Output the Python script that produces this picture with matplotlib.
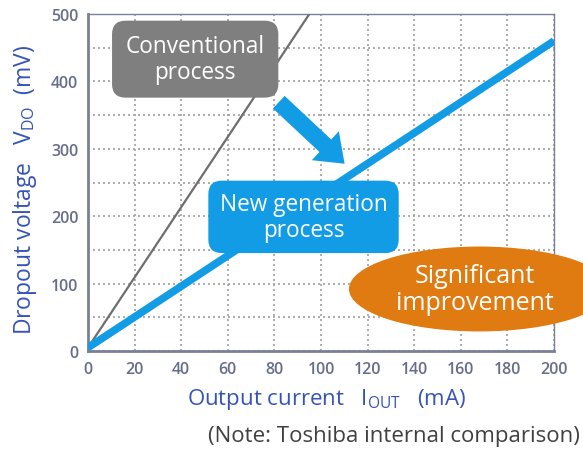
import matplotlib.pyplot as plt
from matplotlib.patches import Ellipse

plt.rcParams['font.family'] = ['Open Sans', 'DejaVu Sans']

# data
current_conv = [0, 95]
vdo_conv = [5, 500]
current_new = [0, 200]
vdo_new = [5, 460]
x_ticks = [0, 20, 40, 60, 80, 100, 120, 140, 160, 180, 200]
y_ticks = [0, 100, 200, 300, 400, 500]

tick_col = "#666d8a"
label_col = "#3553b8"
blue = "#129ce6"
gray = "#6e6e6e"
orange = "#e07b12"

fig = plt.figure(figsize=(5.83, 4.52), dpi=100)
ax = fig.add_axes([88 / 583, 100 / 452, 466 / 583, 337 / 452])

ax.plot(current_conv, vdo_conv, color=gray, lw=1.6, zorder=3, solid_capstyle='butt')
ax.plot(current_new, vdo_new, color=blue, lw=5.5, zorder=3, solid_capstyle='butt')

ax.set_xlim(0, 200)
ax.set_ylim(0, 500)
ax.set_xticks(x_ticks)
ax.set_yticks(y_ticks)
ax.set_yticks([50, 150, 250, 350, 450], minor=True)
ax.grid(True, which='both', color='#a0a0a0', linestyle=(0, (1.2, 1.8)), lw=1.2)
ax.tick_params(which='both', length=0, colors=tick_col, labelsize=11.5, pad=7)
for lab in ax.get_xticklabels() + ax.get_yticklabels():
    lab.set_fontweight('semibold')
for s in ['left', 'bottom']:
    ax.spines[s].set_color('#7a8099')
    ax.spines[s].set_linewidth(2)
for s in ['top', 'right']:
    ax.spines[s].set_color('#7a8099')
    ax.spines[s].set_linewidth(1)

fig.text(25 / 583, 1 - 190 / 452, r"Dropout voltage   V$_{\mathregular{DO}}$  (mV)",
         rotation=90, ha='center', va='center', fontsize=16.5, color=label_col)
fig.text(327 / 583, 1 - 400 / 452, r"Output current   I$_{\mathregular{OUT}}$   (mA)",
         ha='center', va='center', fontsize=16, color=label_col)
fig.text(580 / 583, 1 - 437 / 452, "(Note: Toshiba internal comparison)",
         ha='right', va='center', fontsize=16, color='#404040')

# callouts
ax.text(46, 433, "Conventional\nprocess", ha='center', va='center', fontsize=16.3,
        color='white', linespacing=1.1, zorder=5,
        bbox=dict(boxstyle='round,pad=0.6,rounding_size=0.6', fc='#7f7f7f', ec='none'))
ax.text(92.5, 199, "New generation\nprocess", ha='center', va='center', fontsize=16.3,
        color='white', linespacing=1.1, zorder=5,
        bbox=dict(boxstyle='round,pad=0.5,rounding_size=0.6', fc=blue, ec='none'))
ax.annotate("", xy=(111, 275), xytext=(81, 372),
            arrowprops=dict(arrowstyle='simple,head_width=1.5,head_length=1.0,tail_width=0.65',
                            mutation_scale=19, fc=blue, ec='none'), zorder=4)
ax.add_patch(Ellipse((168, 92), 112, 126, fc=orange, ec='none', clip_on=False, zorder=5))
ax.text(166, 92, "Significant\nimprovement", ha='center', va='center', fontsize=18,
        color='white', linespacing=1.1, zorder=6)

fig.savefig("out.png", dpi=100)
